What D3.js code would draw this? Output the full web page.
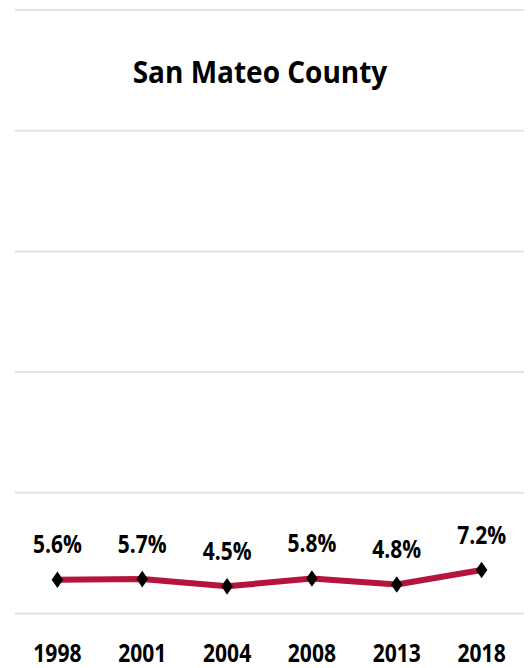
<!DOCTYPE html>
<html><head><meta charset="utf-8">
<script src="https://cdn.jsdelivr.net/npm/d3@7"></script>
<style>body{margin:0;background:#fff}svg{display:block}text{font-family:"Open Sans",sans-serif;font-weight:bold;fill:#000}</style>
</head><body>
<script>
const years = ["1998","2001","2004","2008","2013","2018"];
const values = [5.6,5.7,4.5,5.8,4.8,7.2];
const yTicks = [0,20,40,60,80,100];
const title = "San Mateo County";

const W=529,H=668;
const svg=d3.select("body").append("svg").attr("width",W).attr("height",H);
const x=d3.scaleBand().domain(years).range([15,524]);
const y=d3.scaleLinear().domain([0,100]).range([613.5,10]);

svg.append("g").selectAll("line").data(yTicks).join("line")
  .attr("x1",15).attr("x2",524).attr("y1",d=>y(d)).attr("y2",d=>y(d))
  .attr("stroke","#e2e2e2").attr("stroke-width",2);

svg.append("text").attr("x",132.7).attr("y",82.5)
  .attr("textLength",254.6).attr("lengthAdjust","spacingAndGlyphs")
  .style("font-size","31px").text(title);

const cx=d=>x(d)+x.bandwidth()/2;
const line=d3.line().x((d,i)=>cx(years[i])).y(d=>y(d));
svg.append("path").datum(values).attr("d",line).attr("fill","none")
  .attr("stroke","#b5153b").attr("stroke-width",6).attr("stroke-linejoin","round");

svg.append("g").selectAll("path").data(values).join("path")
  .attr("d",d3.symbol(d3.symbolDiamond,80)())
  .attr("transform",(d,i)=>`translate(${cx(years[i])},${y(d)}) scale(1.2,1)`)
  .attr("fill","#000");

svg.append("g").selectAll("text").data(values).join("text")
  .attr("transform",(d,i)=>`translate(${cx(years[i])},${y(d)-26.5}) scale(0.84,1)`)
  .attr("text-anchor","middle").style("font-size","25px")
  .text(d=>d.toFixed(1)+"%");

svg.append("g").selectAll("text").data(years).join("text")
  .attr("transform",d=>`translate(${cx(d)},661.7) scale(0.82,1)`)
  .attr("text-anchor","middle").style("font-size","25.7px").text(d=>d);
</script>
</body></html>
